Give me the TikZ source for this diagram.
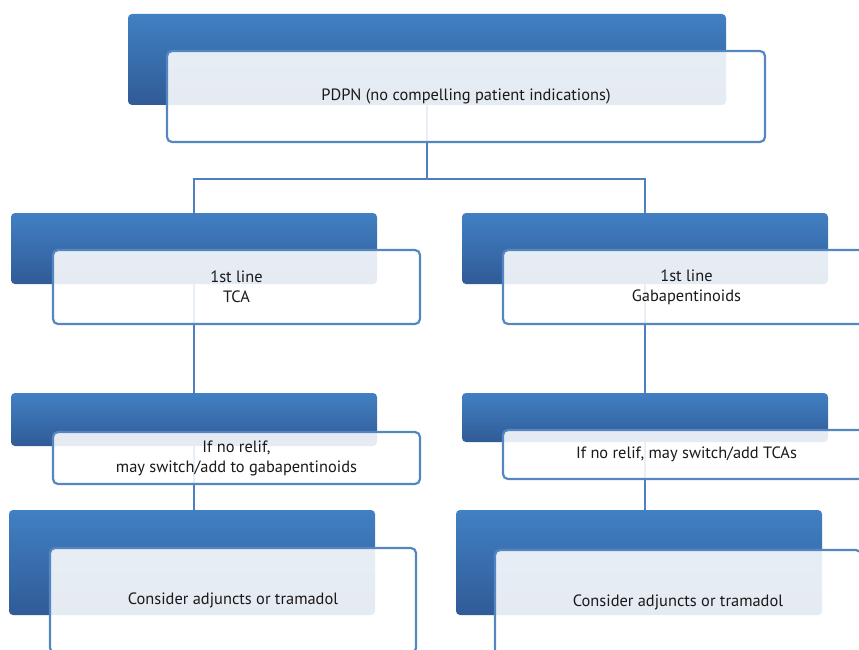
\documentclass[tikz,border=0pt]{standalone}
\usepackage{fontspec}
\setmainfont{PT Sans}
\definecolor{btop}{HTML}{4180C3}
\definecolor{bmid}{HTML}{2A6BB3}
\definecolor{bbot}{HTML}{305B97}
\definecolor{edge}{HTML}{5586C2}
\definecolor{conncol}{HTML}{4F7FBE}
\begin{document}
\begin{tikzpicture}[x=1pt,y=-1pt,
  bluebox/.style={rectangle, rounded corners=4pt, inner sep=0pt, outer sep=0pt,
    top color=btop, middle color=bmid, bottom color=bbot},
  whitebox/.style={rectangle, rounded corners=5pt, inner sep=0pt, outer sep=0pt,
    draw=edge, line width=2.2pt, fill=white, fill opacity=0.88, text opacity=1,
    font=\fontsize{16.4}{20}\selectfont, align=center, text=black!90},
  conn/.style={draw=conncol, line width=2.2pt}]
\useasboundingbox (0,0) rectangle (859,650);
\clip (0,0) rectangle (859,650);
% blue boxes
\node[bluebox, minimum width=598pt, minimum height=91pt] (b0) at (427,59.5) {};
\node[bluebox, minimum width=366pt, minimum height=71pt] (b1) at (194,248.5) {};
\node[bluebox, minimum width=366pt, minimum height=71pt] (b2) at (645,248.5) {};
\node[bluebox, minimum width=366pt, minimum height=53pt] (b3) at (194,419.5) {};
\node[bluebox, minimum width=366pt, minimum height=49pt] (b4) at (645,417.5) {};
\node[bluebox, minimum width=366pt, minimum height=105pt] (b5) at (192,562.5) {};
\node[bluebox, minimum width=366pt, minimum height=105pt] (b6) at (639,562.5) {};
% connectors (behind the white boxes)
\coordinate (j) at (427,179);
\path[conn] (b0.south) -- (j) -| (b1.north);
\path[conn] (j) -| (b2.north);
\path[conn] (b1.south) -- (b3.north);
\path[conn] (b2.south) -- (b4.north);
\path[conn] (b3.south) -- (b3.south |- b5.north);
\path[conn] (b4.south) -- (b4.south |- b6.north);
% white boxes
\node[whitebox, minimum width=598pt, minimum height=91pt] (w0) at (466,96.5) {PDPN (no compelling patient indications)};
\node[whitebox, minimum width=367pt, minimum height=74pt] (w1) at (236.5,287) {1st line\\TCA};
\node[whitebox, minimum width=367pt, minimum height=74pt] (w2) at (686.5,287) {1st line\\Gabapentinoids};
\node[whitebox, minimum width=367pt, minimum height=52pt] (w3) at (236.5,458) {If no relif,\\may switch/add to gabapentinoids};
\node[whitebox, minimum width=367pt, minimum height=49pt] (w4) at (686.5,454.5) {If no relif, may switch/add TCAs};
\node[whitebox, minimum width=366pt, minimum height=105pt] (w5) at (233,600.5) {Consider adjuncts or tramadol};
\node[whitebox, minimum width=366pt, minimum height=105pt] (w6) at (678,602.5) {Consider adjuncts or tramadol};
\end{tikzpicture}
\end{document}
